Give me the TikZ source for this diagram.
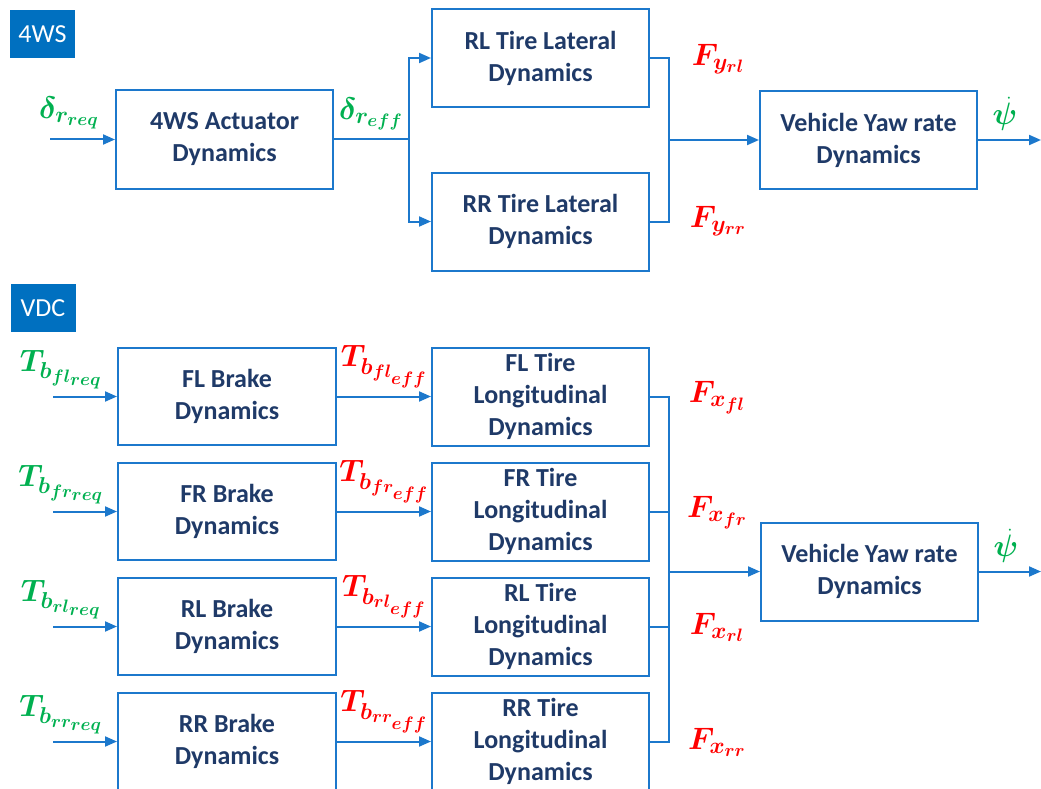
\documentclass[tikz,border=0pt]{standalone}
\usepackage{amsmath,bm}
\usepackage{fontspec}
\setmainfont{Carlito}
\DeclareFontShape{OML}{cmm}{m}{it}{<->cmmi10}{}
\DeclareFontShape{OML}{cmm}{b}{it}{<->cmmib10}{}
\DeclareMathSizes{31}{31}{23}{18}
\usetikzlibrary{arrows.meta}
\definecolor{wire}{RGB}{28,120,204}
\definecolor{tagblue}{RGB}{0,112,192}
\definecolor{boxtext}{RGB}{31,58,104}
\definecolor{sigin}{RGB}{0,176,80}
\definecolor{sigout}{RGB}{255,0,0}

\begin{document}
\begin{tikzpicture}[x=1pt, y=-1pt, color=wire, line width=2pt,
    >={Triangle[length=12pt,width=10pt]},
    blk/.style={draw, minimum width=217pt, minimum height=98pt, inner sep=0pt,
      align=center, text=boxtext, font=\fontsize{26}{32}\selectfont\bfseries},
    tag/.style={fill=tagblue, text=white, minimum width=65pt, minimum height=48pt,
      inner sep=0pt, font=\fontsize{26}{30}\selectfont},
    lab/.style={inner sep=0pt, font=\fontsize{31}{33}\selectfont}]
  \useasboundingbox (0,0) rectangle (1041,789);
  % 4WS part
  \node[tag] (tagA) at (42.5,34) {4WS};
  \node[blk] (act) at (224.5,139.5) {4WS Actuator\\Dynamics};
  \node[blk] (latRL) at (540.5,58) {RL Tire Lateral\\Dynamics};
  \node[blk] (latRR) at (540.5,221.5) {RR Tire Lateral\\Dynamics};
  \node[blk] (yawA) at (868.5,140) {Vehicle Yaw rate\\Dynamics};
  \coordinate (inA) at (50,139.5);
  \coordinate (sp) at (409,139.5);
  \coordinate (mA) at (669,140);
  \coordinate (outA) at (1041,140);
  \draw[->] (inA) -- (act.west);
  \draw (act.east) -- (sp);
  \draw[->] (sp) |- (latRL.west);
  \draw[->] (sp) |- (latRR.west);
  \draw (latRL.east) -| (mA);
  \draw (latRR.east) -| (mA);
  \draw[->] (mA) -- (yawA.west);
  \draw[->] (yawA.east) -- (outA);
  \node[lab, text=sigin] (dReq) at (69,113) {$\bm{\delta_{r_{req}}}$};
  \node[lab, text=sigin] (dEff) at (371,114) {$\bm{\delta_{r_{eff}}}$};
  \node[lab, text=sigout] (fyRL) at (718,59) {$\bm{F_{y_{rl}}}$};
  \node[lab, text=sigout] (fyRR) at (718,221) {$\bm{F_{y_{rr}}}$};
  \node[lab, text=sigin] (psiA) at (1005,114) {$\bm{\dot{\psi}}$};
  % VDC part
  \node[tag] (tagB) at (43,308) {VDC};
  \node[blk] (yawB) at (869.5,571.5) {Vehicle Yaw rate\\Dynamics};
  \coordinate (mB) at (669,571.5);
  \coordinate (outB) at (1041,571.5);
  \foreach \W/\w [count=\k from 0] in {FL/fl,FR/fr,RL/rl,RR/rr}{
    \pgfmathsetmacro\yy{396.5+115*\k}
    \node[blk, minimum width=218pt, minimum height=97pt] (brk\k) at (227,\yy) {\W{} Brake\\Dynamics};
    \node[blk] (tire\k) at (540.5,\yy) {\W{} Tire\\Longitudinal\\Dynamics};
    \coordinate (in\k) at (53,\yy);
    \draw[->] (in\k) -- (brk\k.west);
    \draw[->] (brk\k.east) -- (tire\k.west);
    \draw (tire\k.east) -| (mB);
    \node[lab, text=sigin] (tReq\k) at (61,\yy-27) {$\bm{T_{b_{\w_{req}}}}$};
    \node[lab, text=sigout] (tEff\k) at (384,\yy-30) {$\bm{T_{b_{\w_{eff}}}}$};
    \node[lab, text=sigout] (fx\k) at (717,\yy+1) {$\bm{F_{x_{\w}}}$};
  }
  \draw[->] (mB) -- (yawB.west);
  \draw[->] (yawB.east) -- (outB);
  \node[lab, text=sigin] (psiB) at (1006,546) {$\bm{\dot{\psi}}$};
\end{tikzpicture}
\end{document}
